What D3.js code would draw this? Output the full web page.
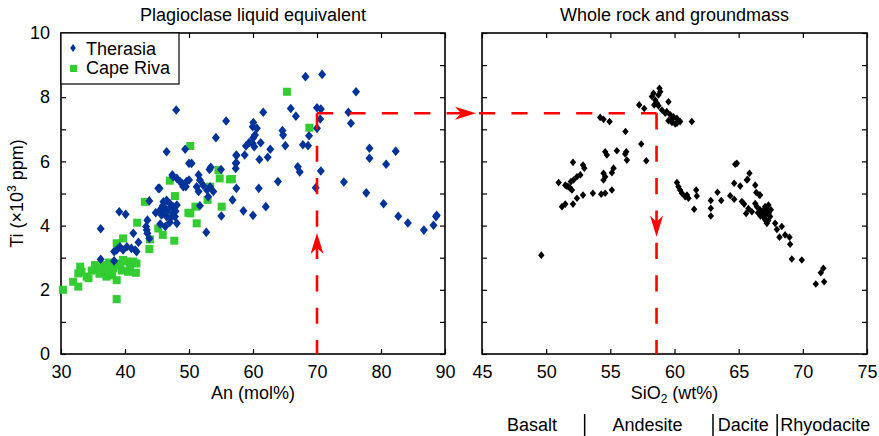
<!DOCTYPE html>
<html>
<head>
<meta charset="utf-8">
<script src="https://cdn.jsdelivr.net/npm/d3@7"></script>
<style>
  body { margin: 0; background: #fff; }
  svg { display: block; font-family: "Liberation Sans", Arial, sans-serif; }
  .tick text { font-size: 18px; fill: #000; }
  .tick line { stroke: #000; stroke-width: 1.2; }
</style>
</head>
<body>
<svg id="chart" width="879" height="436"></svg>
<script>
// Plagioclase liquid equivalent: [An mol%, Ti x10^3 ppm]
const therasia = [
  [68.2,8.64],[70.8,8.71],[76.1,8.17],[65.9,7.65],[66.7,7.41],[61.6,7.53],[70.0,7.67],[70.6,7.63],
  [70.5,7.32],[70.0,7.03],[68.75,6.80],[67.8,6.52],[68.6,6.49],[74.9,7.53],[75.3,7.19],[78.2,6.41],
  [78.2,6.10],[82.3,6.32],[80.8,5.91],[74.2,5.36],[77.7,5.02],[80.4,4.68],[82.7,4.29],[84.2,4.08],
  [86.7,3.86],[88.2,4.01],[88.6,4.28],[88.7,4.32],[70.6,5.70],[69.8,5.18],[67.0,5.83],[67.3,5.67],
  [63.9,5.37],[65.05,6.49],[64.6,6.96],[64.7,6.82],[60.05,7.21],[59.95,7.08],[60.6,7.03],[60.3,6.82],
  [60.05,6.74],[59.4,6.59],[58.9,6.48],[59.95,6.56],[61.2,6.58],[60.2,6.46],[62.7,6.38],[62.3,6.13],
  [61.0,6.06],[58.7,6.2],[57.4,6.18],[57.4,5.96],[57.3,5.78],[60.9,5.16],[57.4,5.16],[56.8,4.80],
  [58.5,4.46],[60.0,4.32],[62.0,4.59],[55.05,4.30],[52.7,3.79],[36.2,3.90],[36.2,2.95],[39.1,4.43],
  [40.1,4.35],[41.3,3.76],[42.1,3.48],[43.8,4.77],[45.4,5.16],[38.3,3.19],[38.3,2.90],[38.7,3.24],
  [39.2,3.34],[39.7,3.24],[40.3,3.34],[41.0,3.29],[41.6,3.24],[41.8,3.19],[43.5,4.17],[43.3,3.97],
  [43.5,3.76],[43.8,3.60],[45.5,4.49],[46.0,4.74],[46.5,4.79],[47.0,4.69],[47.5,4.59],[48.1,4.64],
  [47.5,4.38],[46.5,4.28],[45.7,4.33],[46.3,3.97],[47.8,4.28],[48.1,4.07],[47.5,5.52],[48.9,5.32],
  [49.5,5.21],[46.5,6.30],[50.0,5.94],[48.0,7.60],[55.8,7.26],[54.2,6.74],[49.4,6.38],[50.4,5.94],
  [53.4,5.82],[53.2,5.75],[55.0,5.75],[57.4,6.20],[57.3,5.94],[47.4,5.58],[48.1,5.47],[48.6,5.37],
  [49.1,5.21],[49.6,5.37],[50.0,5.42],[51.5,5.58],[51.7,5.42],[51.2,5.21],[51.5,5.06],[52.2,5.26],
  [52.8,5.11],[53.3,5.21],[53.8,5.06],[53.0,4.90],[45.2,5.16],[51.7,4.62],[46.0,4.45],[47.0,4.10],
  [46.2,4.55],[47.2,4.25],[45.5,4.05],[44.8,4.40],[46.8,4.50],[45.9,4.62],[47.9,4.45],[43.4,3.86]
];
const capeRiva = [
  [65.3,8.17],[68.8,7.05],[56.7,5.45],[30.3,2.0],[38.7,1.71],[31.9,2.25],[32.7,2.10],[33.0,2.72],
  [33.2,2.56],[32.7,2.51],[34.3,2.36],[34.0,2.41],[35.3,2.77],[35.6,2.62],[36.1,2.67],[36.6,2.77],
  [37.1,2.72],[37.1,2.41],[37.7,2.56],[38.2,2.67],[38.7,2.77],[39.2,2.82],[39.7,2.93],[40.3,2.88],
  [40.5,2.56],[40.8,2.77],[41.3,2.88],[41.8,2.82],[41.7,2.53],[38.7,2.30],[38.7,3.45],[39.7,3.60],
  [41.9,4.09],[43.8,3.27],[43.9,3.57],[43.1,4.74],[45.2,3.91],[45.9,3.71],[47.7,3.53],[47.0,5.40],
  [47.8,4.92],[49.9,4.40],[50.2,6.48],[54.8,5.47],[56.4,5.44],[52.9,4.80],[55.1,4.59],[51.2,4.07],
  [50.2,4.38],[51.0,4.59],[46.5,4.38],[54.6,5.73],[53.3,5.21],[36.0,2.50],[34.8,2.60],[37.5,2.85],
  [36.8,2.55],[39.5,2.60],[38.0,2.45]
];

// Whole rock and groundmass: [SiO2 wt%, Ti x10^3 ppm]
const wholeRock = [
  [58.83,8.28],[58.36,8.12],[58.24,8.02],[58.50,7.91],[58.63,7.81],[58.42,7.76],[58.75,8.07],[58.89,8.17],
  [59.53,7.86],[57.25,7.76],[57.64,7.65],[58.75,7.73],[59.02,7.60],[59.28,7.50],[59.67,7.45],[59.92,7.39],
  [60.19,7.34],[60.44,7.24],[60.05,7.17],[61.35,7.24],[59.53,7.27],[59.80,7.21],[60.19,7.19],[59.4,7.55],
  [59.8,7.30],[54.21,7.37],[54.47,7.31],[54.94,7.24],[56.18,6.93],[57.41,6.54],[57.80,6.02],[55.51,6.33],
  [56.24,6.30],[56.29,6.04],[56.16,6.23],[54.60,6.30],[54.73,6.20],[54.47,5.63],[54.60,5.52],[55.25,5.79],
  [55.12,5.65],[52.87,5.89],[52.97,5.79],[52.66,5.58],[52.40,5.52],[52.09,5.97],[50.97,5.34],[51.49,5.26],
  [51.74,5.21],[51.93,5.37],[52.13,5.42],[51.62,5.23],[51.88,5.16],[52.01,5.11],[51.23,4.59],[51.49,4.67],
  [52.09,4.67],[52.40,4.85],[52.87,4.95],[53.64,5.01],[54.29,4.98],[54.60,5.01],[55.12,5.11],[54.47,5.42],
  [49.62,3.08],[60.19,5.34],[60.31,5.21],[60.44,5.11],[60.58,5.01],[60.97,4.95],[61.09,4.85],[60.83,4.90],
  [61.69,5.11],[61.74,4.92],[61.53,4.51],[62.83,4.78],[62.83,4.54],[62.83,4.30],[63.35,5.04],[63.64,4.78],
  [64.34,4.93],[64.65,4.82],[64.65,5.32],[65.12,5.23],[65.64,5.42],[66.29,5.26],[66.37,5.03],[66.67,4.95],
  [64.73,5.91],[64.86,5.94],[65.84,5.63],[65.69,5.44],[65.25,4.75],[65.43,4.67],[65.58,4.38],[65.76,4.53],
  [66.03,4.43],[66.29,4.69],[66.42,4.59],[66.62,4.95],[66.67,4.49],[66.81,4.38],[66.93,4.28],[67.06,4.18],
  [67.20,4.07],[67.32,4.38],[67.45,4.28],[67.51,4.49],[67.06,4.59],[67.32,4.64],[66.9,4.45],[67.1,4.35],
  [67.0,4.25],[67.3,4.15],[66.7,4.30],[67.2,4.50],[66.5,4.40],[67.84,4.07],[67.98,3.88],[68.18,3.64],
  [68.36,3.97],[68.62,3.71],[68.96,3.64],[69.01,3.42],[69.14,2.96],[69.92,2.93],[71.01,2.18],[71.66,2.25],
  [71.40,2.53],[71.60,2.67]
];

// rock names under the right panel: [name, SiO2 centre], separators at SiO2
const rockNames = [["Basalt", 48.9], ["Andesite", 57.9], ["Dacite", 65.35], ["Rhyodacite", 71.75]];
const rockBounds = [53.0, 63.0, 68.0];

// red guide: An 70 -> Ti 7.5 -> SiO2 58.6
const guideAn = 70, guideTi = 7.5, guideSi = 58.6;
const arrowUpTi = 3.77, arrowDownTi = 3.65;

const svg = d3.select('#chart');
const plotTop = 33, plotBottom = 354;

const xLeft = d3.scaleLinear().domain([30, 90]).range([61, 445]);
const xRight = d3.scaleLinear().domain([45, 75]).range([482, 867]);
const y = d3.scaleLinear().domain([0, 10]).range([plotBottom, plotTop]);

const blue = '#003399', green = '#33cc33', red = '#ff0000';
const diamond = (w, h) => `M0,${-h}L${w},0L0,${h}L${-w},0Z`;

const drawFrame = (x, xTicks, showY) => {
  const g = svg.append('g');
  g.append('g')
    .attr('transform', `translate(0,${plotBottom})`)
    .call(d3.axisBottom(x).tickValues(xTicks).tickSizeInner(-5).tickSizeOuter(0).tickPadding(11));
  g.append('g')
    .attr('transform', `translate(0,${plotTop})`)
    .call(d3.axisTop(x).tickValues(xTicks).tickSizeInner(-5).tickSizeOuter(0).tickFormat(''));
  g.append('g')
    .attr('transform', `translate(${x.range()[0]},0)`)
    .call(d3.axisLeft(y).ticks(10).tickSizeInner(-5).tickSizeOuter(0).tickPadding(11)
      .tickFormat(d => showY && d % 2 === 0 ? d : ''));
  g.append('g')
    .attr('transform', `translate(${x.range()[1]},0)`)
    .call(d3.axisRight(y).ticks(10).tickSizeInner(-5).tickSizeOuter(0).tickFormat(''));
  g.selectAll('.domain').remove();
  g.append('rect')
    .attr('x', x.range()[0]).attr('y', plotTop)
    .attr('width', x.range()[1] - x.range()[0]).attr('height', plotBottom - plotTop)
    .attr('fill', 'none').attr('stroke', '#000').attr('stroke-width', 1.6);
  return g;
};

// left panel
const left = drawFrame(xLeft, d3.range(30, 91, 10), true);

left.append('g').selectAll('rect')
  .data(capeRiva)
  .join('rect')
    .attr('x', d => xLeft(d[0]) - 4)
    .attr('y', d => y(d[1]) - 4)
    .attr('width', 8).attr('height', 8)
    .attr('fill', green);

left.append('g').selectAll('path')
  .data(therasia)
  .join('path')
    .attr('transform', d => `translate(${xLeft(d[0])},${y(d[1])})`)
    .attr('d', diamond(4, 4.8))
    .attr('fill', blue);

// right panel
const right = drawFrame(xRight, d3.range(45, 76, 5), false);

right.append('g').selectAll('path')
  .data(wholeRock)
  .join('path')
    .attr('transform', d => `translate(${xRight(d[0])},${y(d[1])})`)
    .attr('d', diamond(3.2, 3.8))
    .attr('fill', '#000');

// legend
const legend = svg.append('g').attr('transform', `translate(${xLeft(30)},${plotTop})`);
legend.append('rect')
  .attr('width', 118).attr('height', 51)
  .attr('fill', '#fff').attr('stroke', '#000').attr('stroke-width', 1.2);
legend.append('path')
  .attr('transform', 'translate(12,15)')
  .attr('d', diamond(2.8, 4))
  .attr('fill', blue);
legend.append('rect')
  .attr('x', 9).attr('y', 32).attr('width', 7).attr('height', 7)
  .attr('fill', green);
legend.selectAll('text')
  .data(['Therasia', 'Cape Riva'])
  .join('text')
    .attr('x', 25)
    .attr('y', (d, i) => 22 + i * 18.5)
    .attr('font-size', 18)
    .text(d => d);

// red dashed guide with arrowheads
const cornerL = [xLeft(guideAn), y(guideTi)];
const cornerR = [xRight(guideSi), y(guideTi)];
const guide = svg.append('g')
  .attr('fill', 'none')
  .attr('stroke', red)
  .attr('stroke-width', 2.6)
  .attr('stroke-dasharray', '16.2,16.2');
guide.append('path').attr('d', `M${cornerL[0]},${cornerL[1]}V${plotBottom}`);
guide.append('path').attr('d', `M${cornerL[0]},${cornerL[1]}H${cornerR[0]}`);
guide.append('path').attr('d', `M${cornerR[0]},${cornerR[1]}V${plotBottom}`);

const arrowHead = 'M0,0L-21,-6.5L-15,0L-21,6.5Z';
const arrows = [
  [cornerL[0], y(arrowUpTi), -90],
  [xRight(45) - 6, y(guideTi), 0],
  [cornerR[0], y(arrowDownTi), 90]
];
svg.append('g').selectAll('path')
  .data(arrows)
  .join('path')
    .attr('transform', d => `translate(${d[0]},${d[1]}) rotate(${d[2]})`)
    .attr('d', arrowHead)
    .attr('fill', red);

// titles and axis labels
const label = (x, yy, txt, size) => svg.append('text')
  .attr('x', x).attr('y', yy)
  .attr('text-anchor', 'middle')
  .attr('font-size', size || 18)
  .text(txt);

label(d3.mean(xLeft.range()), 21, 'Plagioclase liquid equivalent');
label(d3.mean(xRight.range()), 21, 'Whole rock and groundmass');
label(d3.mean(xLeft.range()), 399, 'An (mol%)');

const siLabel = svg.append('text')
  .attr('x', d3.mean(xRight.range())).attr('y', 399)
  .attr('text-anchor', 'middle')
  .attr('font-size', 18);
siLabel.append('tspan').text('SiO');
siLabel.append('tspan').attr('font-size', 12).attr('dy', 4).text('2');
siLabel.append('tspan').attr('dy', -4).text(' (wt%)');

const yLabel = svg.append('text')
  .attr('transform', `translate(23,${d3.mean(y.range())}) rotate(-90)`)
  .attr('text-anchor', 'middle')
  .attr('font-size', 18);
yLabel.append('tspan').text('Ti (×10');
yLabel.append('tspan').attr('font-size', 12).attr('dy', -7).text('3');
yLabel.append('tspan').attr('dy', 7).text(' ppm)');

// rock classification row
rockNames.forEach(([name, si]) => label(xRight(si), 431, name));
svg.append('g').selectAll('line')
  .data(rockBounds)
  .join('line')
    .attr('x1', d => xRight(d)).attr('x2', d => xRight(d))
    .attr('y1', 414).attr('y2', 436)
    .attr('stroke', '#000').attr('stroke-width', 1.5);
</script>
</body>
</html>
